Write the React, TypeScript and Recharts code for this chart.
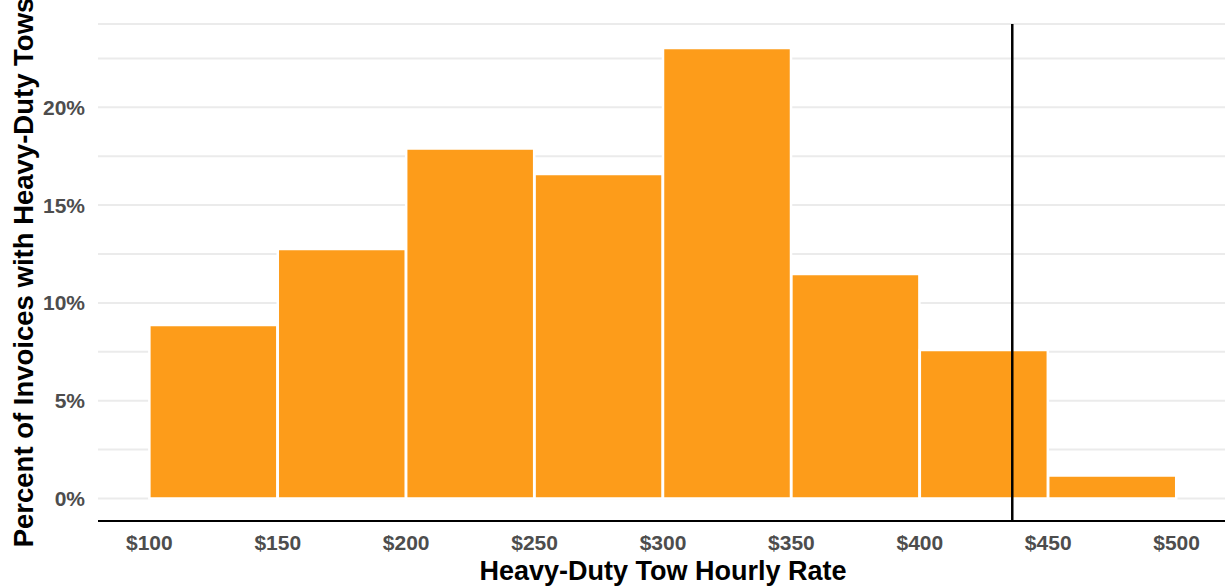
import React from 'react';
import { ComposedChart, Bar, XAxis, YAxis, CartesianGrid, ReferenceLine } from 'recharts';

// Histogram bins (hourly rate, $) and share of invoices (%)
const binMids = [125, 175, 225, 275, 325, 375, 425, 475];
const percents = [8.87, 12.76, 17.9, 16.59, 23.03, 11.48, 7.59, 1.17];
const xTicks = [100, 150, 200, 250, 300, 350, 400, 450, 500];
const yTicks = [0, 2.5, 5, 7.5, 10, 12.5, 15, 17.5, 20, 22.5];
const markerRate = 436;

const data = binMids.map((mid, i) => ({ mid, pct: percents[i] }));

const FONT = '"Liberation Sans", Arial, Helvetica, sans-serif';
const ORANGE = '#FD9C1A';

export default function App() {
  return (
    <div style={{ position: 'absolute', left: 0, top: 0, width: 1225, height: 588, background: '#fff' }}>
      <ComposedChart
        width={1225}
        height={588}
        data={data}
        margin={{ top: 24, right: -3, left: 0, bottom: 0 }}
        barCategoryGap={0}
        barGap={0}
        style={{ fontFamily: FONT }}
      >
        <CartesianGrid vertical={false} stroke="#EBEBEB" strokeWidth={2} />
        <XAxis
          type="number"
          dataKey="mid"
          domain={[80, 520]}
          allowDataOverflow
          ticks={xTicks}
          interval={0}
          tickFormatter={(v: number) => `$${v}`}
          tickLine={false}
          axisLine={{ stroke: '#000', strokeWidth: 2 }}
          tickSize={6}
          tickMargin={8}
          height={67}
          tick={{ fill: '#4D4D4D', fontSize: 21, fontWeight: 'bold', fontFamily: FONT }}
          label={{
            value: 'Heavy-Duty Tow Hourly Rate',
            position: 'insideBottom',
            offset: 8,
            fill: '#000',
            style: { fontSize: 27, fontWeight: 'bold', fontFamily: FONT, fill: '#000' },
          }}
        />
        <YAxis
          type="number"
          domain={[-1.15, 24.26]}
          allowDataOverflow
          ticks={yTicks}
          interval={0}
          tickFormatter={(v: number) => (v % 5 === 0 ? `${v}%` : '')}
          tickLine={false}
          axisLine={false}
          tickSize={6}
          tickMargin={7}
          width={98}
          tick={{ fill: '#4D4D4D', fontSize: 21, fontWeight: 'bold', fontFamily: FONT }}
          label={{
            value: 'Percent of Invoices with Heavy-Duty Tows',
            angle: -90,
            position: 'center',
            dx: -26,
            fill: '#000',
            style: { fontSize: 27.5, fontWeight: 'bold', fontFamily: FONT, fill: '#000', textAnchor: 'middle' },
          }}
        />
        <Bar dataKey="pct" fill={ORANGE} stroke="#FFFFFF" strokeWidth={2.5} isAnimationActive={false} />
        <ReferenceLine x={markerRate} stroke="#000" strokeWidth={2.5} />
      </ComposedChart>
    </div>
  );
}
